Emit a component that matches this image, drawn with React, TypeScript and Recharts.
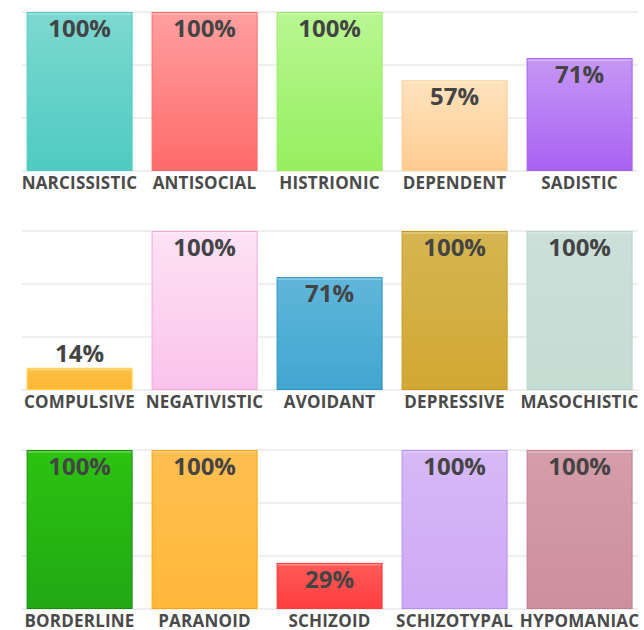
import React from "react";
import { BarChart, Bar, XAxis, YAxis, CartesianGrid, LabelList } from "recharts";

const PANEL1_CATEGORIES = ["NARCISSISTIC", "ANTISOCIAL", "HISTRIONIC", "DEPENDENT", "SADISTIC"];
const PANEL1_VALUES = [100, 100, 100, 57, 71];
const PANEL2_CATEGORIES = ["COMPULSIVE", "NEGATIVISTIC", "AVOIDANT", "DEPRESSIVE", "MASOCHISTIC"];
const PANEL2_VALUES = [14, 100, 71, 100, 100];
const PANEL3_CATEGORIES = ["BORDERLINE", "PARANOID", "SCHIZOID", "SCHIZOTYPAL", "HYPOMANIAC"];
const PANEL3_VALUES = [100, 100, 29, 100, 100];
const Y_TICKS = [0, 100 / 3, 200 / 3, 100];

// [gradient top, gradient bottom, border]
const PANEL1_COLORS = [
  ["#7dd8d0", "#4ecbc2", "#4ecdc4"],
  ["#ff9f9f", "#ff6b6b", "#ff6b6b"],
  ["#b8f792", "#96ef5f", "#95ee60"],
  ["#ffe2bd", "#ffcc92", "#ffc98a"],
  ["#c597f5", "#a962f2", "#a460f0"],
];
const PANEL2_COLORS = [
  ["#fdbf45", "#fdb632", "#ffd84a"],
  ["#fde2f5", "#fac3ea", "#f5a8de"],
  ["#60b6da", "#41a6d0", "#2a93c4"],
  ["#d6b551", "#d1a833", "#c89a1c"],
  ["#cbe0d8", "#c6dcd3", "#b7d4c9"],
];
const PANEL3_COLORS = [
  ["#2bc310", "#22a814", "#1b8b10"],
  ["#ffbf50", "#ffb83a", "#ffa600"],
  ["#ff5a5a", "#ff3e3e", "#ff3a3a"],
  ["#d6b8f7", "#cfa9f4", "#b88eee"],
  ["#d59da9", "#cd8f9d", "#c17f8e"],
];

const FONT = "'Open Sans', 'Noto Sans', sans-serif";

function makeShape(panelId: string, colors: string[][]) {
  return (props: any) => {
    const { x, y, width, height, index } = props;
    if (!height || height <= 0) return null;
    const c = colors[index];
    return (
      <g>
        <rect
          x={x + 0.5}
          y={y + 0.5}
          width={width - 1}
          height={height - 1}
          fill={`url(#grad-${panelId}-${index})`}
          stroke={c[2]}
          strokeWidth={1}
        />
        <line
          x1={x + 1}
          x2={x + width - 1}
          y1={y + 2}
          y2={y + 2}
          stroke="#ffffff"
          strokeOpacity={0.45}
          strokeWidth={1}
        />
      </g>
    );
  };
}

const ValueLabel = (props: any) => {
  const { x, y, width, height, value } = props;
  const inside = height >= 30;
  return (
    <text
      x={x + width / 2}
      y={inside ? y + 25 : y - 5.6}
      textAnchor="middle"
      fontFamily={FONT}
      fontWeight={700}
      fontSize={24}
      fill="#444444"
    >
      {`${value}%`}
    </text>
  );
};

const CategoryTick = (props: any) => {
  const { x, y, payload } = props;
  return (
    <text
      x={x}
      y={y + 18}
      textAnchor="middle"
      fontFamily={FONT}
      fontWeight={700}
      fontSize={17}
      letterSpacing={0.2}
      fill="#4a4a4a"
    >
      {payload.value}
    </text>
  );
};

const GridLine = (props: any) => {
  const { x1, x2, y1, y2 } = props;
  return <line x1={x1 + 5} x2={x2 - 4} y1={y1} y2={y2} stroke="#e9e9e9" strokeWidth={1.5} />;
};

function Panel({ id, categories, values, colors }: { id: string; categories: string[]; values: number[]; colors: string[][] }) {
  const data = categories.map((name, i) => ({ name, value: values[i] }));
  return (
    <BarChart width={644} height={219} data={data} margin={{ top: 12, right: 2, left: 17, bottom: 0 }} barCategoryGap={9.6}>
      <defs>
        {colors.map((c, i) => (
          <linearGradient key={i} id={`grad-${id}-${i}`} x1="0" y1="0" x2="0" y2="1">
            <stop offset="0%" stopColor={c[0]} />
            <stop offset="100%" stopColor={c[1]} />
          </linearGradient>
        ))}
      </defs>
      <CartesianGrid vertical={false} horizontal={GridLine as any} horizontalValues={Y_TICKS} />
      <YAxis hide domain={[0, 100]} ticks={Y_TICKS} />
      <XAxis
        dataKey="name"
        height={48}
        axisLine={false}
        tickLine={false}
        tickSize={0}
        tickMargin={0}
        interval={0}
        tick={<CategoryTick />}
      />
      <Bar dataKey="value" isAnimationActive={false} shape={makeShape(id, colors)}>
        <LabelList dataKey="value" content={<ValueLabel />} />
      </Bar>
    </BarChart>
  );
}

export default function App() {
  return (
    <div style={{ position: "absolute", left: 0, top: 0, width: 644, height: 630, background: "#ffffff" }}>
      <Panel id="p1" categories={PANEL1_CATEGORIES} values={PANEL1_VALUES} colors={PANEL1_COLORS} />
      <Panel id="p2" categories={PANEL2_CATEGORIES} values={PANEL2_VALUES} colors={PANEL2_COLORS} />
      <Panel id="p3" categories={PANEL3_CATEGORIES} values={PANEL3_VALUES} colors={PANEL3_COLORS} />
    </div>
  );
}
